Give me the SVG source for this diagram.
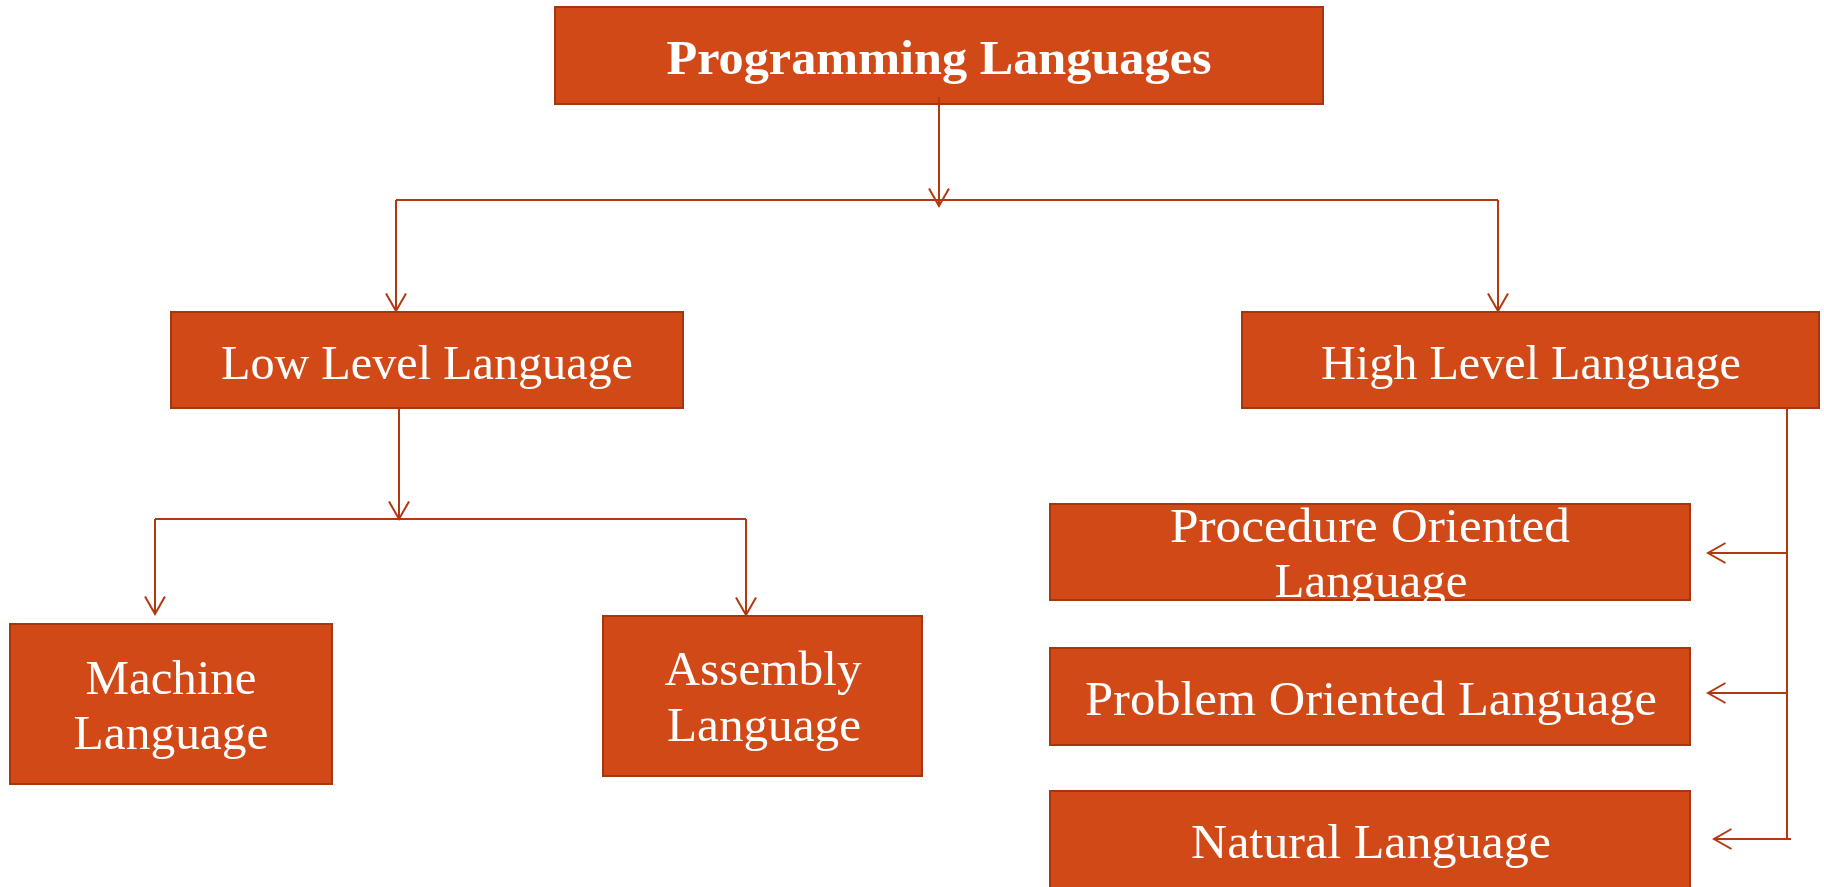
<svg xmlns="http://www.w3.org/2000/svg" width="1824" height="887" viewBox="0 0 1824 887">
  <style>
    .box { fill: #D14917; stroke: #A6360F; stroke-width: 2; }
    .lbl { fill: #FFFFFF; font-family: "Liberation Serif", "DejaVu Serif", serif; font-size: 48px; text-anchor: middle; }
    .bold { font-weight: bold; }
    .wire { fill: none; stroke: #B2380F; stroke-width: 2; }
  </style>
  <defs>
    <marker id="open" markerUnits="userSpaceOnUse" markerWidth="22" markerHeight="24" refX="19" refY="12" orient="auto">
      <path d="M1.5,2 L19,12 L1.5,22" fill="none" stroke="#B2380F" stroke-width="2"/>
    </marker>
  </defs>
  <rect width="1824" height="887" fill="#FFFFFF"/>

  <g id="node-programming">
    <rect class="box" x="555" y="7" width="768" height="97"/>
    <text class="lbl bold" x="939" y="74" textLength="545" lengthAdjust="spacingAndGlyphs">Programming Languages</text>
  </g>
  <g id="node-low">
    <rect class="box" x="171" y="312" width="512" height="96"/>
    <text class="lbl" x="427" y="379" textLength="412" lengthAdjust="spacingAndGlyphs">Low Level Language</text>
  </g>
  <g id="node-high">
    <rect class="box" x="1242" y="312" width="577" height="96"/>
    <text class="lbl" x="1531" y="379" textLength="420" lengthAdjust="spacingAndGlyphs">High Level Language</text>
  </g>
  <g id="node-machine">
    <rect class="box" x="10" y="624" width="322" height="160"/>
    <text class="lbl" x="171" y="694" textLength="171" lengthAdjust="spacingAndGlyphs">Machine</text>
    <text class="lbl" x="171" y="749" textLength="195" lengthAdjust="spacingAndGlyphs">Language</text>
  </g>
  <g id="node-assembly">
    <rect class="box" x="603" y="616" width="319" height="160"/>
    <text class="lbl" x="763" y="685" textLength="197" lengthAdjust="spacingAndGlyphs">Assembly</text>
    <text class="lbl" x="764" y="741" textLength="194" lengthAdjust="spacingAndGlyphs">Language</text>
  </g>
  <g id="node-procedure">
    <rect class="box" x="1050" y="504" width="640" height="96"/>
    <text class="lbl" x="1370" y="542" textLength="400" lengthAdjust="spacingAndGlyphs">Procedure Oriented</text>
    <text class="lbl" x="1371" y="597" textLength="193" lengthAdjust="spacingAndGlyphs">Language</text>
  </g>
  <g id="node-problem">
    <rect class="box" x="1050" y="648" width="640" height="97"/>
    <text class="lbl" x="1371" y="715" textLength="572" lengthAdjust="spacingAndGlyphs">Problem Oriented Language</text>
  </g>
  <g id="node-natural">
    <rect class="box" x="1050" y="791" width="640" height="110"/>
    <text class="lbl" x="1371" y="858" textLength="360" lengthAdjust="spacingAndGlyphs">Natural Language</text>
  </g>

  <g id="connectors">
    <path class="wire" d="M939,97 V206" marker-end="url(#open)"/>
    <path class="wire" d="M396,200 H1498"/>
    <path class="wire" d="M396,200 V311" marker-end="url(#open)"/>
    <path class="wire" d="M1498,200 V311" marker-end="url(#open)"/>
    <path class="wire" d="M399,408 V519" marker-end="url(#open)"/>
    <path class="wire" d="M155,519 H746"/>
    <path class="wire" d="M155,519 V614" marker-end="url(#open)"/>
    <path class="wire" d="M746,519 V615" marker-end="url(#open)"/>
    <path class="wire" d="M1787,408 V840"/>
    <path class="wire" d="M1787,553 H1708" marker-end="url(#open)"/>
    <path class="wire" d="M1787,693 H1708" marker-end="url(#open)"/>
    <path class="wire" d="M1791,839 H1714" marker-end="url(#open)"/>
  </g>
</svg>
